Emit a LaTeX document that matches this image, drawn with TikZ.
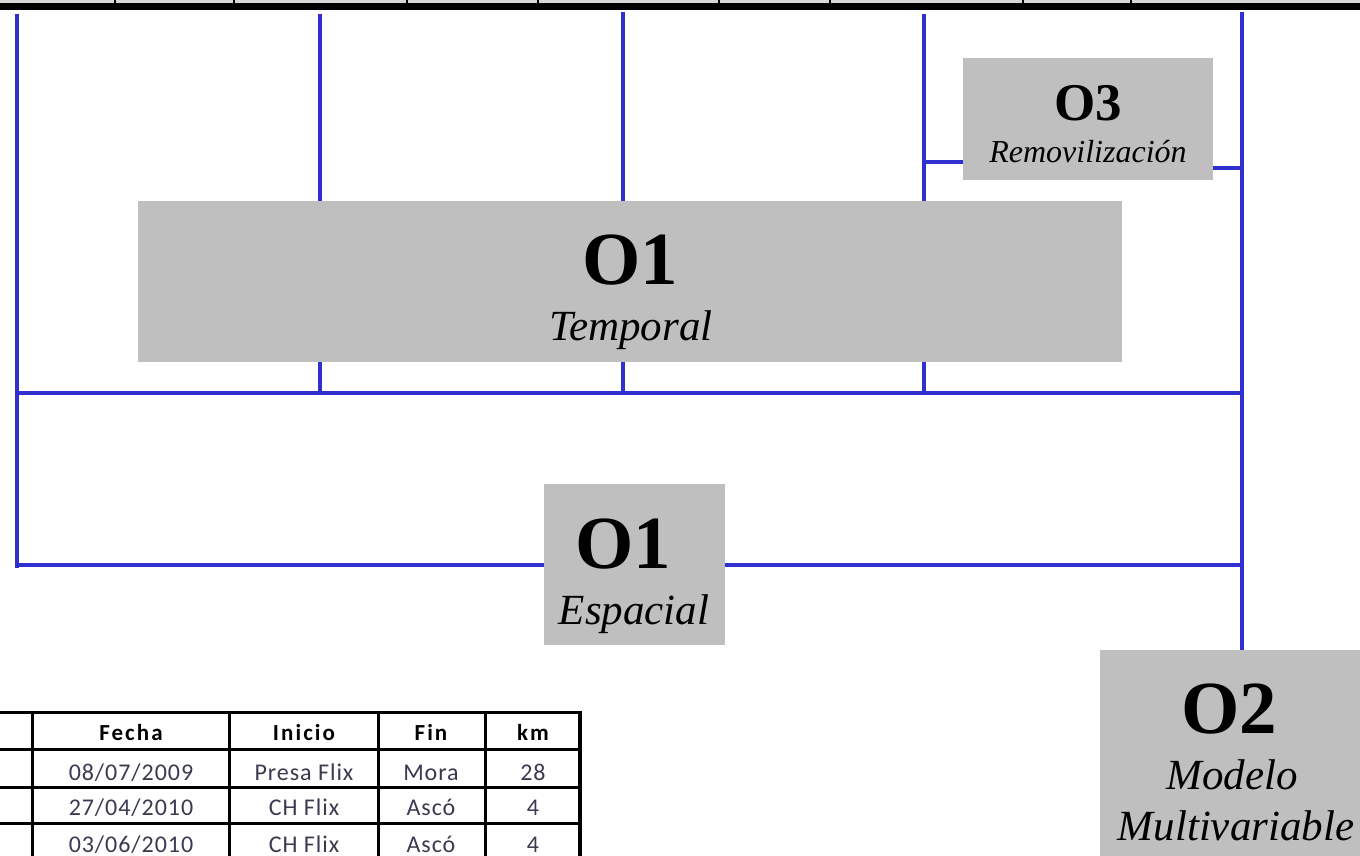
\documentclass[tikz,border=0pt]{standalone}
\usepackage{fontspec}
\setmainfont{Liberation Serif}
\newfontfamily\tabfont{Carlito}
\newfontfamily\tabfonth{Carlito}[LetterSpace=9]
\newfontfamily\tabfontd{Carlito}[LetterSpace=4]
\definecolor{blu}{RGB}{48,48,208}
\definecolor{boxgray}{RGB}{191,191,191}
\definecolor{stripgray}{RGB}{216,216,216}
\definecolor{tabtext}{RGB}{62,56,80}
\tikzset{
  bl/.style={draw=blu, line width=4.3pt},
  gbox/.style={fill=boxgray, draw=none, inner sep=0pt, anchor=north west},
  big/.style={font=\fontsize{75}{75}\selectfont\bfseries, anchor=base, inner sep=0pt},
  mid/.style={font=\fontsize{53}{53}\selectfont\bfseries, anchor=base, inner sep=0pt},
  sub/.style={font=\fontsize{43}{43}\selectfont\itshape, anchor=base, inner sep=0pt},
  subs/.style={font=\fontsize{32}{32}\selectfont\itshape, anchor=base, inner sep=0pt},
  tl/.style={draw=black, line width=3pt},
  th/.style={font=\tabfonth\fontsize{23}{23}\selectfont\bfseries, anchor=base, inner sep=0pt, text=black},
  td/.style={font=\tabfontd\fontsize{24}{24}\selectfont, anchor=base, inner sep=0pt, text=tabtext}
}
\begin{document}
\begin{tikzpicture}[x=1pt,y=-1pt]
\useasboundingbox (0,0) rectangle (1360,856);
% top strip
\fill[stripgray] (0,0) rectangle (1360,4);
\fill[black] (0,3.5) rectangle (1360,10);
\foreach \xx in {115,234,407,538,719,830,1023,1131}{
  \fill[black] (\xx-1,0) rectangle (\xx+1,4);
}
% grid coordinates
\coordinate (v1t) at (17,14);   \coordinate (v1b) at (17,568);
\coordinate (v2t) at (320,14);  \coordinate (v2b) at (320,393);
\coordinate (v3t) at (623,12);  \coordinate (v3b) at (623,393);
\coordinate (v4t) at (924,14);  \coordinate (v4b) at (924,393);
\coordinate (v5t) at (1242,12); \coordinate (v5b) at (1242,650);
\coordinate (h1l) at (17,393);  \coordinate (h1r) at (1242,393);
\coordinate (h2l) at (17,565);  \coordinate (h2r) at (1242,565);
\coordinate (c3l) at (924,162); \coordinate (c3r) at (1242,168);
% boxes
\node[gbox, minimum width=250, minimum height=122] (o3) at (963,58) {};
\node[gbox, minimum width=984, minimum height=161] (o1t) at (138,201) {};
\node[gbox, minimum width=181, minimum height=161] (o1e) at (544,484) {};
\node[gbox, minimum width=270, minimum height=220] (o2) at (1100,650) {};
% blue lines
\draw[bl] (v1t) -- (v1b);
\draw[bl] (v2t) -- (o1t.north -| v2t);
\draw[bl] (o1t.south -| v2t) -- (v2b);
\draw[bl] (v3t) -- (o1t.north -| v3t);
\draw[bl] (o1t.south -| v3t) -- (v3b);
\draw[bl] (v4t) -- (o1t.north -| v4t);
\draw[bl] (o1t.south -| v4t) -- (v4b);
\draw[bl] (v5t) -- (v5b);
\draw[bl] (h1l) -- (h1r);
\draw[bl] (h2l) -- (o1e.west |- h2l);
\draw[bl] (o1e.east |- h2r) -- (h2r);
\draw[bl] (c3l) -- (o3.west |- c3l);
\draw[bl] (o3.east |- c3r) -- (c3r);
% box texts
\node[mid] (o3a) at (1088,121) {O3};
\node[subs] (o3b) at (1088,163) {Removilización};
\node[big] (o1ta) at (630,284) {O1};
\node[sub] (o1tb) at (631,340) {Temporal};
\node[big] (o1ea) at (623,568) {O1};
\node[sub] (o1eb) at (634,624) {Espacial};
\node[big] (o2a) at (1229,733) {O2};
\node[sub] (o2b) at (1232,789) {Modelo};
\node[sub] (o2c) at (1236,840) {Multivariable};
% table
\draw[tl] (0,712) -- (581,712);
\draw[tl] (0,749) -- (581,749);
\draw[tl] (0,787) -- (581,787);
\draw[tl] (0,823) -- (581,823);
\foreach \xx in {32,229,378,485}{ \draw[tl] (\xx,711) -- (\xx,860); }
\draw[black, line width=4pt] (580,711) -- (580,860);
\node[th] (hf) at (131,740) {Fecha};
\node[th] (hi) at (304,740) {Inicio};
\node[th] (hn) at (431,740) {Fin};
\node[th] (hk) at (533,740) {km};
\node[td] (r1a) at (131,780) {08/07/2009};
\node[td] (r1b) at (304,780) {Presa Flix};
\node[td] (r1c) at (431,780) {Mora};
\node[td] (r1d) at (533,780) {28};
\node[td] (r2a) at (131,815) {27/04/2010};
\node[td] (r2b) at (304,815) {CH Flix};
\node[td] (r2c) at (431,815) {Ascó};
\node[td] (r2d) at (533,815) {4};
\node[td] (r3a) at (131,852) {03/06/2010};
\node[td] (r3b) at (304,852) {CH Flix};
\node[td] (r3c) at (431,852) {Ascó};
\node[td] (r3d) at (533,852) {4};
\end{tikzpicture}
\end{document}
